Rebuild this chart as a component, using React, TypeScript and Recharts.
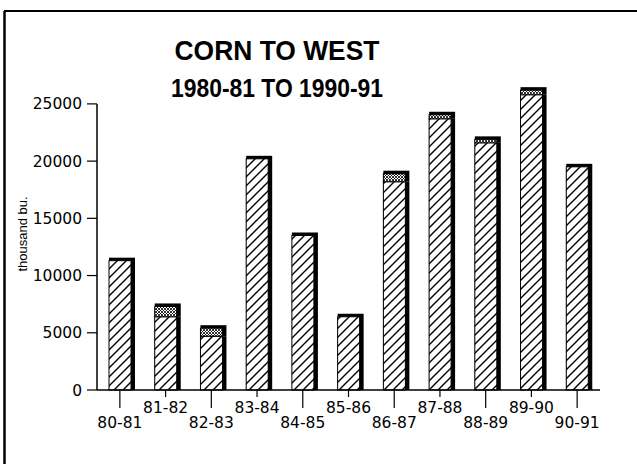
import React from 'react';
import { BarChart, Bar, XAxis, YAxis, ReferenceLine } from 'recharts';

const categories = ['80-81', '81-82', '82-83', '83-84', '84-85', '85-86', '86-87', '87-88', '88-89', '89-90', '90-91'];
// hatched part of each bar
const mainValues = [11300, 6400, 4700, 20200, 13500, 6400, 18200, 23700, 21600, 25800, 19500];
// small dotted cap on some bars
const extraValues = [0, 900, 700, 0, 0, 0, 700, 350, 300, 400, 0];
const yTicks = [0, 5000, 10000, 15000, 20000, 25000];

const data = categories.map((name, i) => ({ name, main: mainValues[i], extra: extraValues[i] }));

const CAP = 3;
const SHADOW = 4;
const tickFont = 'DejaVu Sans';

const MainShape = (props: any) => {
  const { x, y, width, height, payload } = props;
  if (!height || height <= 0) return null;
  const isTop = !payload.extra;
  return (
    <g>
      <rect x={x} y={isTop ? y - CAP : y} width={width + SHADOW} height={height + (isTop ? CAP : 0)} fill="#000" />
      <rect x={x} y={y} width={width} height={height} fill="url(#hatch)" stroke="#000" strokeWidth={1} />
    </g>
  );
};

const ExtraShape = (props: any) => {
  const { x, y, width, height } = props;
  if (!height || height <= 0) return null;
  return (
    <g>
      <rect x={x} y={y - CAP} width={width + SHADOW} height={height + CAP} fill="#000" />
      <rect x={x} y={y} width={width} height={height} fill="url(#dots)" stroke="#000" strokeWidth={1} />
    </g>
  );
};

// labels alternate between a low row (long tick) and a high row (short tick)
const XTick = (props: any) => {
  const { x, y, payload } = props;
  const i = categories.indexOf(payload.value);
  const low = i % 2 === 0;
  return (
    <g>
      <line x1={x} y1={y} x2={x} y2={y + (low ? 18 : 7)} stroke="#000" strokeWidth={1.2} />
      <text x={x} y={y + (low ? 38 : 23)} textAnchor="middle" fontSize={15.5} fontFamily={tickFont} fill="#000">
        {payload.value}
      </text>
    </g>
  );
};

export default function App() {
  return (
    <div style={{ position: 'absolute', left: 0, top: 0, width: 637, height: 464, background: '#fff' }}>
      <svg width={0} height={0} style={{ position: 'absolute' }}>
        <defs>
          <pattern id="hatch" patternUnits="userSpaceOnUse" width={9} height={9}>
            <rect width={9} height={9} fill="#fff" />
            <path d="M0,9 L9,0 M-2,2 L2,-2 M7,11 L11,7" stroke="#000" strokeWidth={1.4} />
          </pattern>
          <pattern id="dots" patternUnits="userSpaceOnUse" width={3} height={3}>
            <rect width={3} height={3} fill="#fff" />
            <path d="M0,0 L3,3 M3,0 L0,3" stroke="#000" strokeWidth={0.8} />
          </pattern>
        </defs>
      </svg>
      <BarChart
        width={637}
        height={464}
        data={data}
        margin={{ top: 81, right: 37, bottom: 44, left: 37 }}
        barSize={22}
      >
        <XAxis
          dataKey="name"
          interval={0}
          height={30}
          tickSize={0}
          tickMargin={0}
          tickLine={false}
          axisLine={{ stroke: '#000', strokeWidth: 1.5 }}
          tick={<XTick />}
        />
        <YAxis
          width={60}
          domain={[0, 27000]}
          ticks={yTicks}
          axisLine={false}
          tickLine={{ stroke: '#000', strokeWidth: 1.2 }}
          tickSize={10}
          tickMargin={5}
          tick={{ fill: '#000', fontSize: 15.5, fontFamily: tickFont }}
        />
        <ReferenceLine
          segment={[{ x: categories[0], y: 0 }, { x: categories[0], y: 25000 }]}
          position="start"
          stroke="#000"
          strokeWidth={1.5}
        />
        <Bar dataKey="main" stackId="a" shape={MainShape} isAnimationActive={false} />
        <Bar dataKey="extra" stackId="a" shape={ExtraShape} isAnimationActive={false} />
      </BarChart>
      <svg width={637} height={464} style={{ position: 'absolute', left: 0, top: 0, pointerEvents: 'none' }}>
        <line x1={4.5} y1={11} x2={4.5} y2={464} stroke="#000" strokeWidth={2.5} />
        <line x1={4} y1={11} x2={637} y2={11} stroke="#000" strokeWidth={2} />
        <text x={277} y={60} textAnchor="middle" fontSize={28} fontWeight="bold" fontFamily="Liberation Sans, Arial" textLength={205} lengthAdjust="spacingAndGlyphs">
          CORN TO WEST
        </text>
        <text x={277} y={97} textAnchor="middle" fontSize={25} fontWeight="bold" fontFamily="Liberation Sans, Arial" textLength={212} lengthAdjust="spacingAndGlyphs">
          1980-81 TO 1990-91
        </text>
        <text x={27} y={234} transform="rotate(-90, 27, 234)" textAnchor="middle" fontSize={13} fontFamily="Liberation Sans, Arial">
          thousand bu.
        </text>
      </svg>
    </div>
  );
}
